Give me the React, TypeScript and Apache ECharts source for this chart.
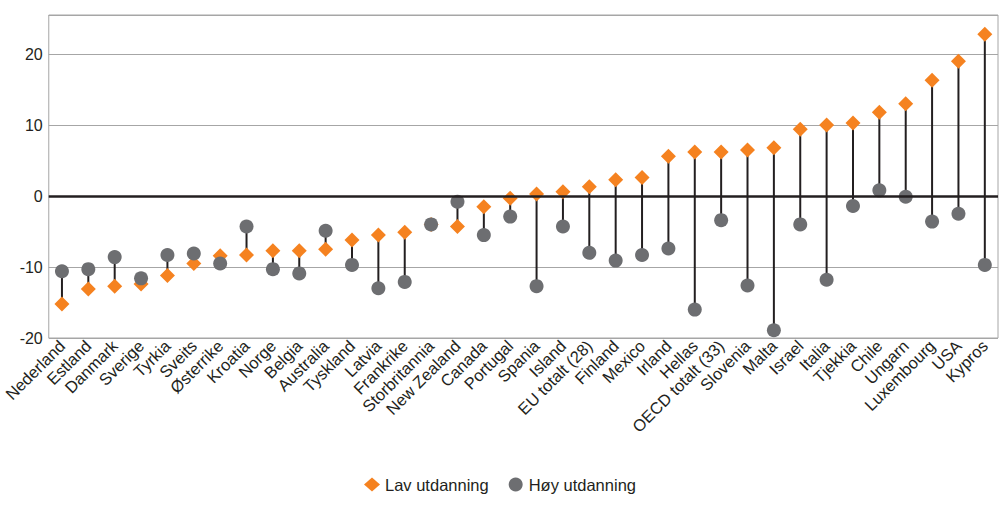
import React, { useEffect, useRef } from "react";
import * as echarts from "echarts";

const categories = [
  "Nederland", "Estland", "Danmark", "Sverige", "Tyrkia", "Sveits", "Østerrike", "Kroatia",
  "Norge", "Belgia", "Australia", "Tyskland", "Latvia", "Frankrike", "Storbritannia",
  "New Zealand", "Canada", "Portugal", "Spania", "Island", "EU totalt (28)", "Finland",
  "Mexico", "Irland", "Hellas", "OECD totalt (33)", "Slovenia", "Malta", "Israel", "Italia",
  "Tjekkia", "Chile", "Ungarn", "Luxembourg", "USA", "Kypros",
];

const lavUtdanning = [
  -15.2, -13.1, -12.7, -12.4, -11.2, -9.5, -8.4, -8.3, -7.7, -7.7, -7.5, -6.2, -5.5, -5.1,
  -4.0, -4.3, -1.5, -0.3, 0.3, 0.6, 1.3, 2.3, 2.6, 5.6, 6.2, 6.2, 6.5, 6.8, 9.4, 10.0, 10.3,
  11.8, 13.0, 16.3, 19.0, 22.8,
];

const hoyUtdanning = [
  -10.6, -10.3, -8.6, -11.6, -8.3, -8.1, -9.5, -4.3, -10.3, -10.9, -4.9, -9.7, -13.0, -12.1,
  -4.0, -0.8, -5.5, -2.9, -12.7, -4.3, -8.0, -9.1, -8.3, -7.4, -16.0, -3.4, -12.6, -18.9,
  -4.0, -11.8, -1.4, 0.8, -0.1, -3.6, -2.5, -9.7,
];

const yTicks = [-20, -10, 0, 10, 20];

const FONT = "'Liberation Sans', Arial, sans-serif";

export default function App() {
  const ref = useRef<HTMLDivElement>(null);

  useEffect(() => {
    if (!ref.current) return;
    const chart = echarts.init(ref.current, null, { renderer: "svg" });
    const lineData = categories.map((_, i) => [i, lavUtdanning[i], hoyUtdanning[i]]);
    chart.setOption({
      animation: false,
      textStyle: { fontFamily: FONT },
      grid: {
        left: 48,
        top: 15,
        right: 2,
        bottom: 171,
        show: true,
        borderColor: "#A6A6A6",
        borderWidth: 1,
      },
      legend: {
        data: ["Lav utdanning", "Høy utdanning"],
        bottom: 11,
        left: "center",
        itemGap: 20,
        itemWidth: 16,
        itemHeight: 14,
        textStyle: { fontFamily: FONT, fontSize: 16.5, color: "#231F20" },
      },
      xAxis: {
        type: "category",
        data: categories,
        boundaryGap: true,
        axisLine: { show: false },
        axisTick: { show: false },
        axisLabel: {
          interval: 0,
          rotate: 45,
          fontSize: 16.5,
          color: "#231F20",
          fontFamily: FONT,
          margin: 5,
        },
        splitLine: { show: false },
      },
      yAxis: {
        type: "value",
        min: -20,
        max: 25.5,
        interval: 10,
        axisLine: { show: false },
        axisTick: { show: false },
        axisLabel: {
          fontSize: 16,
          color: "#231F20",
          fontFamily: FONT,
          margin: 6,
          formatter: (v: number) => (yTicks.includes(v) ? String(v) : ""),
        },
        splitLine: { show: true, lineStyle: { color: "#A6A6A6", width: 1 } },
      },
      series: [
        {
          type: "custom",
          name: "lines",
          silent: true,
          z: 1,
          data: lineData,
          encode: { x: 0, y: [1, 2] },
          renderItem: (params: any, api: any) => {
            const x = api.value(0);
            const p1 = api.coord([x, api.value(1)]);
            const p2 = api.coord([x, api.value(2)]);
            return {
              type: "line",
              shape: { x1: p1[0], y1: p1[1], x2: p2[0], y2: p2[1] },
              style: { stroke: "#231F20", lineWidth: 2 },
            };
          },
          markLine: {
            silent: true,
            symbol: "none",
            label: { show: false },
            lineStyle: { color: "#231F20", width: 2.5, type: "solid" },
            data: [{ yAxis: 0 }],
          },
        },
        {
          type: "scatter",
          name: "Lav utdanning",
          symbol: "diamond",
          symbolSize: [15, 15],
          z: 3,
          itemStyle: { color: "#F58220", opacity: 1 },
          data: lavUtdanning,
        },
        {
          type: "scatter",
          name: "Høy utdanning",
          symbol: "circle",
          symbolSize: 14,
          z: 4,
          itemStyle: { color: "#6D6E71", opacity: 1 },
          data: hoyUtdanning,
        },
      ],
    });
    return () => chart.dispose();
  }, []);

  return (
    <div
      ref={ref}
      style={{ position: "absolute", left: 0, top: 0, width: 1000, height: 509, background: "#fff" }}
    />
  );
}
